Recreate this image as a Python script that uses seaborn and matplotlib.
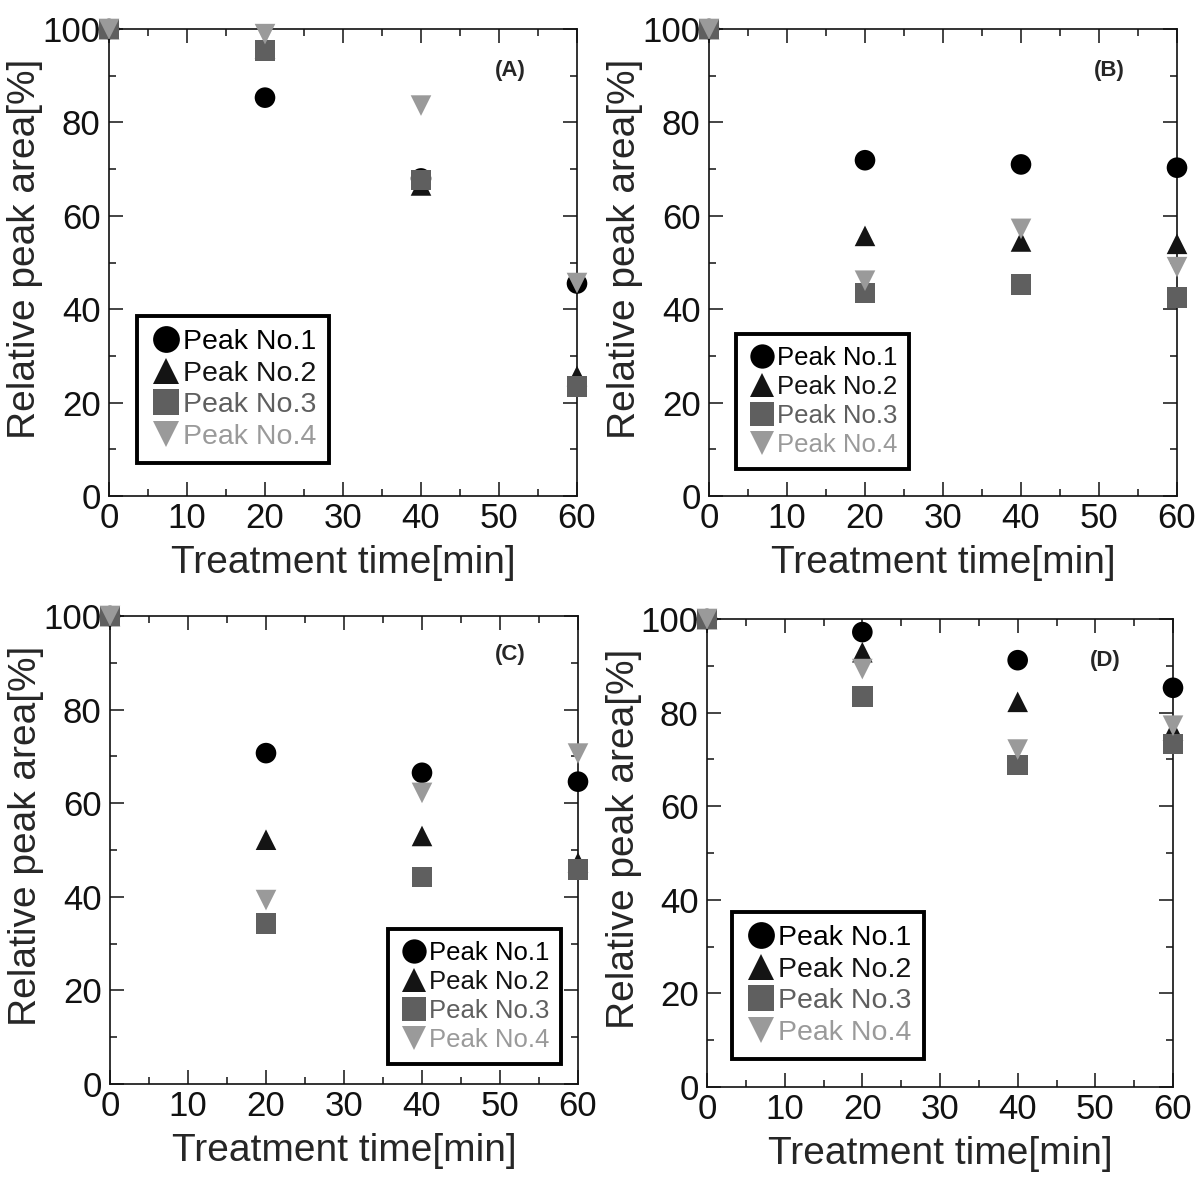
import matplotlib
matplotlib.use("Agg")
import matplotlib.pyplot as plt
from matplotlib.ticker import MultipleLocator
import seaborn as sns
import pandas as pd

# Treatment times [min]
times = [0, 20, 40, 60]
peak_names = ["Peak No.1", "Peak No.2", "Peak No.3", "Peak No.4"]

# Relative peak area [%] for each condition
a_peak1 = [100, 85.3, 68.0, 45.5]
a_peak2 = [100, 95.8, 66.5, 25.7]
a_peak3 = [100, 95.4, 67.7, 23.4]
a_peak4 = [100, 98.9, 83.6, 45.6]

b_peak1 = [100, 71.9, 71.0, 70.3]
b_peak2 = [100, 55.7, 54.5, 54.0]
b_peak3 = [100, 43.5, 45.3, 42.5]
b_peak4 = [100, 46.1, 57.2, 49.0]

c_peak1 = [100, 70.7, 66.5, 64.6]
c_peak2 = [100, 52.2, 53.0, 47.3]
c_peak3 = [100, 34.3, 44.2, 45.8]
c_peak4 = [100, 39.3, 62.2, 70.6]

d_peak1 = [100, 97.2, 91.2, 85.3]
d_peak2 = [100, 92.9, 82.3, 76.2]
d_peak3 = [100, 83.4, 68.8, 73.3]
d_peak4 = [100, 89.3, 72.1, 77.2]

panel_labels = ["(A)", "(B)", "(C)", "(D)"]
panel_series = [
    [a_peak1, a_peak2, a_peak3, a_peak4],
    [b_peak1, b_peak2, b_peak3, b_peak4],
    [c_peak1, c_peak2, c_peak3, c_peak4],
    [d_peak1, d_peak2, d_peak3, d_peak4],
]

colors = {"Peak No.1": "#000000", "Peak No.2": "#141414",
          "Peak No.3": "#5f5f5f", "Peak No.4": "#9a9a9a"}
markers = {"Peak No.1": "o", "Peak No.2": "^", "Peak No.3": "s", "Peak No.4": "v"}

sns.set_theme(style="ticks")
plt.rcParams["font.family"] = ["Liberation Sans", "DejaVu Sans"]

W, H = 1204, 1178
fig = plt.figure(figsize=(W / 100, H / 100), dpi=100)

# axes boxes in pixels: left, top, right, bottom
boxes = [(109, 29, 577, 496), (709, 29, 1177, 496),
         (110, 616, 578, 1084), (707, 619, 1173, 1087)]

# legend placement / sizing per panel
legend_cfg = [
    dict(loc="lower left", anchor=(0.060, 0.071), size=20.5, scale=1.3),
    dict(loc="lower left", anchor=(0.058, 0.058), size=18.5, scale=1.18),
    dict(loc="lower right", anchor=(0.964, 0.043), size=18.5, scale=1.18),
    dict(loc="lower left", anchor=(0.054, 0.060), size=20.5, scale=1.3),
]
letter_pos = [(0.857, 0.912), (0.855, 0.912), (0.855, 0.917), (0.854, 0.912)]

for i, (series, box) in enumerate(zip(panel_series, boxes)):
    l, t, r, b = box
    ax = fig.add_axes([l / W, 1 - b / H, (r - l) / W, (b - t) / H])

    rows = []
    for name, vals in zip(peak_names, series):
        for x, y in zip(times, vals):
            rows.append({"time": x, "area": y, "peak": name})
    df = pd.DataFrame(rows)

    sns.scatterplot(data=df, x="time", y="area", hue="peak", style="peak",
                    palette=colors, markers=markers, s=220, linewidth=0,
                    hue_order=peak_names, style_order=peak_names,
                    ax=ax, clip_on=False, zorder=3)

    ax.set_xlim(0, 60)
    ax.set_ylim(0, 100)
    ax.xaxis.set_major_locator(MultipleLocator(10))
    ax.xaxis.set_minor_locator(MultipleLocator(5))
    ax.yaxis.set_major_locator(MultipleLocator(20))
    ax.yaxis.set_minor_locator(MultipleLocator(10))
    ax.tick_params(which="both", direction="in", top=True, right=True,
                   colors="#111111", width=1.1)
    ax.tick_params(which="major", length=10, labelsize=25)
    ax.tick_params(which="minor", length=5)
    ax.tick_params(axis="y", which="major", pad=6)
    ax.tick_params(axis="x", which="major", pad=4)
    for sp in ax.spines.values():
        sp.set_visible(True)
        sp.set_linewidth(1.2)
        sp.set_color("#111111")

    ax.set_xlabel("Treatment time[min]", fontsize=28)
    ax.set_ylabel("Relative peak area[%]", fontsize=28)
    ax.xaxis.set_label_coords(0.5, -0.105)
    ax.yaxis.set_label_coords(-0.14, 0.53)

    lx, ly = letter_pos[i]
    ax.text(lx, ly, panel_labels[i], transform=ax.transAxes, fontsize=16,
            fontweight="bold", ha="center", va="center")

    handles, labels = ax.get_legend_handles_labels()
    ax.get_legend().remove()
    cfg = legend_cfg[i]
    leg = ax.legend(handles, labels, loc=cfg["loc"], bbox_to_anchor=cfg["anchor"],
                    borderaxespad=0, fontsize=cfg["size"], markerscale=cfg["scale"],
                    handletextpad=0.05, labelspacing=0.2, borderpad=0.45,
                    handlelength=1.1, fancybox=False, framealpha=1,
                    edgecolor="black")
    leg.get_frame().set_linewidth(2.8)
    for txt, name in zip(leg.get_texts(), labels):
        txt.set_color(colors.get(name, "black"))

fig.savefig("out.png", dpi=100)
